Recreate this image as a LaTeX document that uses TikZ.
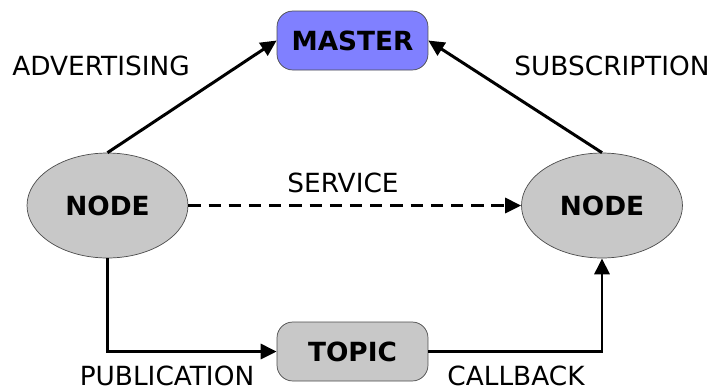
\documentclass[tikz,border=0pt]{standalone}
\usepackage{fontspec}
\setmainfont{DejaVu Sans}
\usetikzlibrary{arrows.meta, shapes.geometric}
\definecolor{masterBlue}{RGB}{128,128,255}
\definecolor{nodeGray}{RGB}{200,200,200}
\tikzset{
    rosBox/.style={rectangle, rounded corners=9pt, draw=black!70, thin, minimum width=3.02cm, minimum height=1.18cm, font=\fontsize{15}{17}\selectfont\bfseries},
    rosNode/.style={ellipse, draw=black!70, thin, fill=nodeGray, minimum width=3.22cm, minimum height=2.1cm, inner sep=0pt, font=\fontsize{15}{17}\selectfont\bfseries},
    flowLine/.style={-{Triangle[length=3.2mm, width=3mm]}, line width=1.7pt},
    flowLabel/.style={font=\fontsize{15}{17}\selectfont}
}
\begin{document}
\begin{tikzpicture}[x=0.02cm, y=-0.02cm]
    \useasboundingbox (0,0) rectangle (721,390);
    \node[rosBox, fill=masterBlue] (master) at (352.5,40.5) {MASTER};
    \node[rosNode] (nodeL) at (107.5,205.5) {NODE};
    \node[rosNode] (nodeR) at (602,205.5) {NODE};
    \node[rosBox, fill=nodeGray] (topic) at (352.5,351.5) {TOPIC};
    \draw[flowLine] (nodeL.north) -- (master.west);
    \draw[flowLine] (nodeR.north) -- (master.east);
    \draw[flowLine, dash pattern=on 7pt off 4.5pt] (nodeL.east) -- (nodeR.west);
    \draw[flowLine] (nodeL.south) |- (topic.west);
    \draw[flowLine] (topic.east) -| (nodeR.south);
    \node[flowLabel] (advLbl) at (101,66) {ADVERTISING};
    \node[flowLabel] (subLbl) at (612,66) {SUBSCRIPTION};
    \node[flowLabel] (srvLbl) at (343,183) {SERVICE};
    \node[flowLabel] (pubLbl) at (167,376) {PUBLICATION};
    \node[flowLabel] (cbLbl) at (516,376) {CALLBACK};
\end{tikzpicture}
\end{document}
